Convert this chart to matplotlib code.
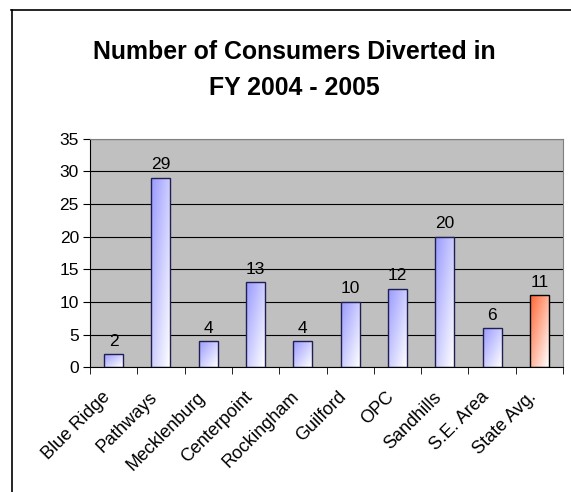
import numpy as np
import matplotlib
matplotlib.use("Agg")
import matplotlib.pyplot as plt
from matplotlib.colors import LinearSegmentedColormap
from matplotlib.lines import Line2D
from matplotlib.transforms import ScaledTranslation

categories = ["Blue Ridge", "Pathways", "Mecklenburg", "Centerpoint", "Rockingham",
              "Guilford", "OPC", "Sandhills", "S.E. Area", "State Avg."]
values = [2, 29, 4, 13, 4, 10, 12, 20, 6, 11]
yticks = [0, 5, 10, 15, 20, 25, 30, 35]
title = "Number of Consumers Diverted in\nFY 2004 - 2005"

plt.rcParams['font.family'] = ['Liberation Sans', 'DejaVu Sans']

fig = plt.figure(figsize=(5.71, 4.92), dpi=100)
ax = fig.add_axes([90/571, 1-367.3/492, 473/571, (367.3-138.6)/492])
ax.set_facecolor('#c0c0c0')

blue = LinearSegmentedColormap.from_list('b', ['#9999ff', '#ffffff'])
red = LinearSegmentedColormap.from_list('r', ['#ff6633', '#ffffff'])

n = len(categories)
x = np.arange(n)
width = 0.4
ax.set_xlim(-0.5, n-0.5)
ax.set_ylim(0, 35)
ax.set_yticks(yticks)
ax.yaxis.grid(True, color='black', linewidth=0.8)
ax.set_axisbelow(True)

u = np.linspace(0, 1, 50)
gx, gy = np.meshgrid(u, u)
grad = (gx + gy) / 2.0

bars = ax.bar(x, values, width=width, facecolor='none', zorder=3)
for i, b in enumerate(bars):
    last = (i == n-1)
    cmap = red if last else blue
    ec = '#000000' if last else '#202050'
    x0, y0 = b.get_x(), b.get_y()
    w, h = b.get_width(), b.get_height()
    im = ax.imshow(grad, cmap=cmap, extent=[x0, x0+w, y0, y0+h], origin='upper',
                   aspect='auto', zorder=2.5, interpolation='bilinear')
    im.set_clip_path(b)
    b.set_edgecolor(ec)
    b.set_linewidth(1.0)
    ax.annotate(str(values[i]), (x[i], values[i]), xytext=(0, 4), textcoords='offset points',
                ha='center', va='bottom', fontsize=12.5)
ax.set_xlim(-0.5, n-0.5)
ax.set_ylim(0, 35)

ax.set_xticks(x)
ax.set_xticklabels(categories, rotation=45, ha='right', rotation_mode='anchor', fontsize=13)
ax.tick_params(axis='x', length=0, pad=8)
off = ScaledTranslation(-12/100, -10/100, fig.dpi_scale_trans)
for lab in ax.get_xticklabels():
    lab.set_transform(lab.get_transform() + off)
ax.set_xticks(np.arange(-0.5, n, 1.0), minor=True)
ax.tick_params(axis='x', which='minor', length=5, direction='out', color='black')
ax.tick_params(axis='y', length=5, direction='out', labelsize=12.5, pad=3)

for s in ['top', 'right']:
    ax.spines[s].set_color('#808080')
for s in ['left', 'bottom']:
    ax.spines[s].set_color('black')

fig.text(294/571, 1-70/492, title, ha='center', va='center', fontsize=17.9,
         fontweight='bold', linespacing=1.6)

fig.add_artist(Line2D([11/571, 1.01], [1-9.5/492, 1-9.5/492], color='black', lw=1.2,
                      transform=fig.transFigure))
fig.add_artist(Line2D([11.5/571, 11.5/571], [1-9.5/492, -0.01], color='black', lw=1.2,
                      transform=fig.transFigure))

fig.savefig('out.png', dpi=100)
